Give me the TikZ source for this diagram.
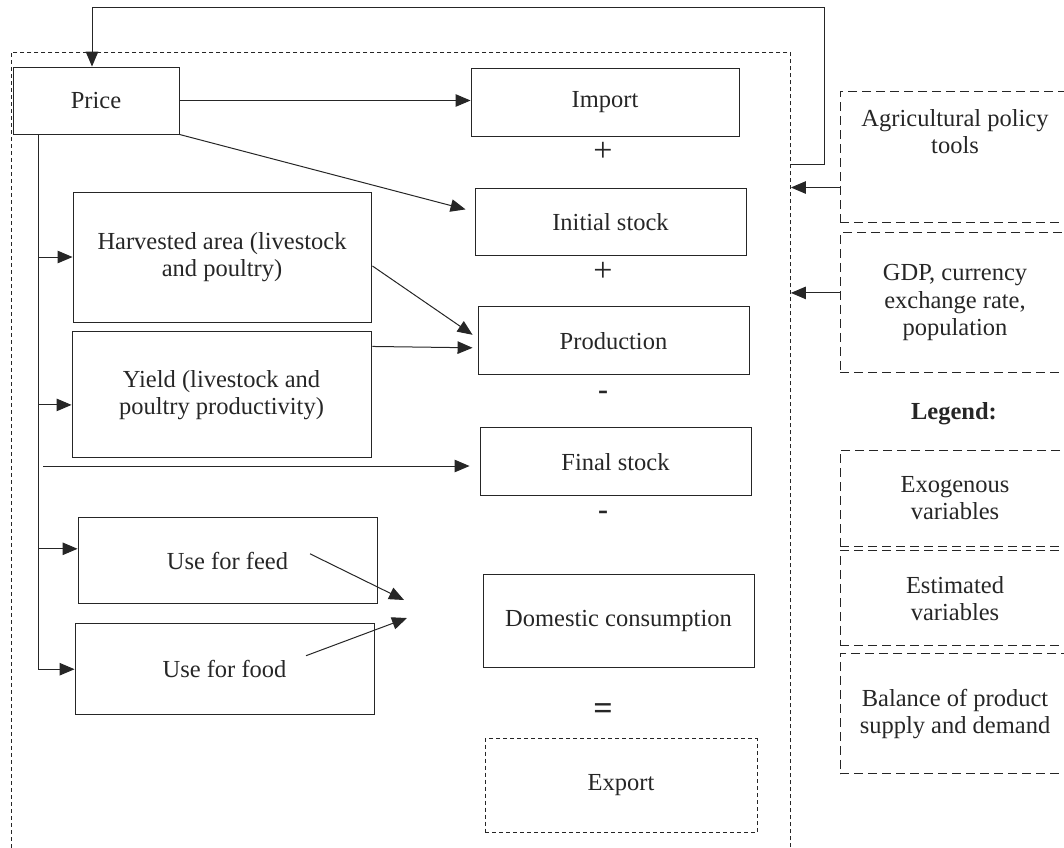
\documentclass[tikz,border=0pt]{standalone}
\usepackage{fontspec}
\setmainfont{Liberation Serif}
\usetikzlibrary{positioning, calc, arrows.meta}

\begin{document}
\begin{tikzpicture}[x=1pt, y=-1pt, ->, >={Triangle[length=15pt, width=12.5pt]}, line width=1pt, color=black!85,
    font=\fontsize{24.5pt}{27.5pt}\selectfont,
    box/.style={draw, rectangle, inner sep=0pt, align=center, line width=0.9pt},
    dotbox/.style={box, dash pattern=on 4pt off 3pt, line width=0.9pt},
    legbox/.style={box, dash pattern=on 9pt off 5pt, line width=0.9pt, minimum width=230pt},
    sign/.style={font=\fontsize{34pt}{34pt}\selectfont, inner sep=0pt}]
    \useasboundingbox (0,0) rectangle (1064,847);

    % Model frame
    \node[dotbox, minimum width=779pt, minimum height=800pt, anchor=north west] (model) at (11,52) {};

    % Balance column
    \node[box, minimum width=268pt, minimum height=68pt] (import) at (605,102) {Import};
    \node[box, minimum width=271pt, minimum height=67pt] (init) [below=52pt of import, xshift=5.5pt] {Initial stock};
    \node[box, minimum width=271pt, minimum height=68pt] (prod) [below=50pt of init, xshift=3pt] {Production};
    \node[box, minimum width=271pt, minimum height=68pt] (final) [below=52pt of prod, xshift=2pt] {Final stock};
    \node[box, minimum width=271pt, minimum height=93pt] (dom) [below=78pt of final, xshift=3pt] {Domestic consumption};
    \node[dotbox, minimum width=272pt, minimum height=94pt] (export) [below=70pt of dom, xshift=2.5pt] {Export};

    % Signs
    \node[sign] (plusA) at (603,152) {+};
    \node[sign] (plusB) at (603,272) {+};
    \node[sign, font=\fontsize{30pt}{30pt}\selectfont\bfseries] (minusA) at (603,395) {-};
    \node[sign, font=\fontsize{30pt}{30pt}\selectfont\bfseries] (minusB) at (603,515) {-};
    \node[sign] (eq) at (603,712) {\bfseries =};

    % Left column
    \node[box, minimum width=166pt, minimum height=67pt] (price) at (96,100.5) {Price};
    \node[box, minimum width=298pt, minimum height=130pt] (harv) at (222,257) {Harvested area (livestock\\and poultry)};
    \node[box, minimum width=299pt, minimum height=126pt] (yield) [below=9pt of harv, xshift=-0.5pt] {Yield (livestock and\\poultry productivity)};
    \node[box, minimum width=299pt, minimum height=86pt] (feed) [below=59pt of yield, xshift=6pt] {Use for feed};
    \node[box, minimum width=299pt, minimum height=91pt] (food) [below=19pt of feed, xshift=-3pt] {Use for food};

    % Exogenous inputs and legend
    \node[legbox, minimum height=131pt, label={[align=center, anchor=north, yshift=-15pt]north:Agricultural policy\\tools}] (agri) at (955,156.5) {};
    \node[legbox, minimum height=140pt] (gdp) [below=10pt of agri] {GDP, currency\\exchange rate,\\population};
    \node (legend) at (954,414) {\bfseries Legend:};
    \node[legbox, minimum height=96pt] (exo) at (955,498) {Exogenous\\variables};
    \node[legbox, minimum height=95pt] (est) [below=4pt of exo] {Estimated\\variables};
    \node[legbox, minimum height=120pt] (bal) [below=7pt of est] {Balance of product\\supply and demand};

    % Helper points
    \coordinate (trunk) at ($(price.south west)+(26,0)$);
    \coordinate (yieldin) at ($(yield.west)+(0,10)$);
    \coordinate (feedin) at ($(feed.west)+(0,-12)$);
    \coordinate (stockline) at (43,466);
    \coordinate (finalin) at ($(final.west)+(-10,7)$);
    \coordinate (feedtip) at (404,600);
    \coordinate (foodtip) at (407,618);
    \coordinate (agriout) at ($(agri.west)+(0,31)$);
    \coordinate (gdpout) at ($(gdp.west)+(0,-10)$);

    % Price links
    \draw (price.east) -- (price.east -| import.west);
    \draw (price.south east) -- ($(init.west)+(-9,-13)$);
    \draw (trunk) |- (food.west);
    \draw (trunk |- harv.west) -- (harv.west);
    \draw (trunk |- yieldin) -- (yieldin);
    \draw (trunk |- feedin) -- (feedin);
    \draw (stockline) -- (stockline -| finalin);

    % Supply side
    \draw ($(harv.east)+(1,9)$) -- ($(prod.west)+(-5,-6)$);
    \draw ($(yield.north east)+(1,15)$) -- ($(prod.west)+(-5,7)$);

    % Uses
    \draw ($(feed.center)+(82.5,-7)$) -- (feedtip);
    \draw ($(food.center)+(81.5,-13.5)$) -- (foodtip);

    % Feedback and exogenous inputs
    \draw ($(model.north east)+(0,112)$) -| (824,7) -| ($(price.north)+(-4,0)$);
    \draw (agriout) -- (agriout -| model.east);
    \draw (gdpout) -- (gdpout -| model.east);
\end{tikzpicture}
\end{document}
